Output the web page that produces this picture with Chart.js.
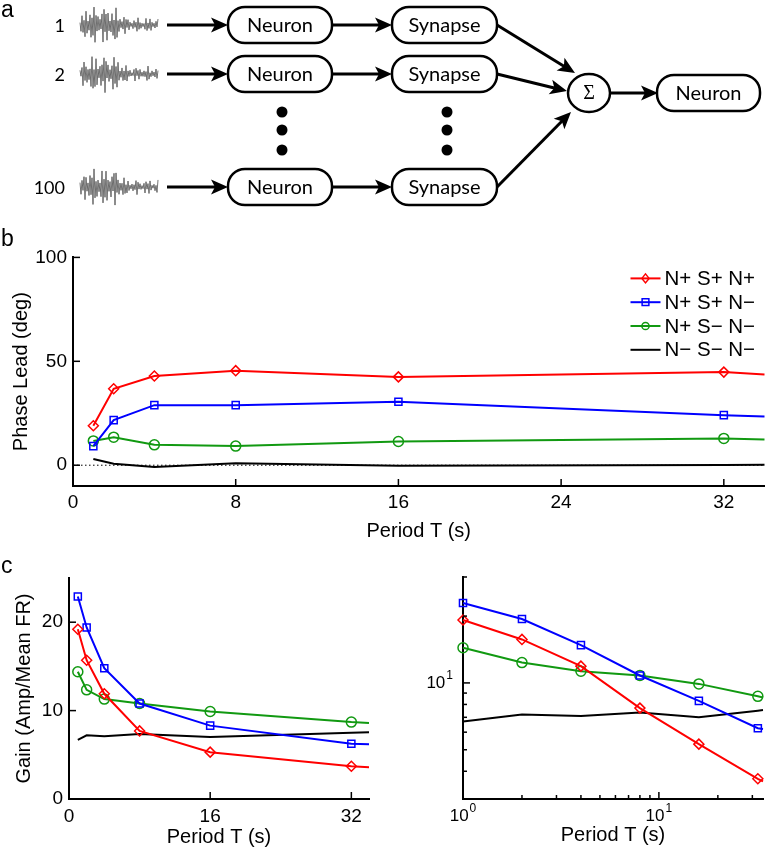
<!DOCTYPE html>
<html>
<head>
<meta charset="utf-8">
<script src="https://cdn.jsdelivr.net/npm/chart.js@4.4.1/dist/chart.umd.min.js"></script>
<style>
  html, body { margin: 0; padding: 0; background: #fff; }
  #page { position: relative; width: 771px; height: 853px; overflow: hidden; font-family: "Liberation Sans", Arial, sans-serif; }
  .wrap { position: absolute; }
  .letter { position: absolute; font-size: 23px; color: #000; }
</style>
</head>
<body>
<div id="page">
  <canvas id="diagram" class="wrap" style="left:0;top:0;width:771px;height:215px"></canvas>
  <div class="letter" style="left:1px;top:-4px">a</div>
  <div class="letter" style="left:1px;top:225px">b</div>
  <div class="letter" style="left:1px;top:552px">c</div>
  <div class="wrap" style="left:0;top:240px;width:771px;height:305px"><canvas id="phase"></canvas></div>
  <div class="wrap" style="left:0;top:560px;width:385px;height:293px"><canvas id="gainLin"></canvas></div>
  <div class="wrap" style="left:390px;top:560px;width:381px;height:293px"><canvas id="gainLog"></canvas></div>
</div>
<script>
  // periods (s); the last value is where the lines leave the frame (no marker there)
  var periods = [1, 2, 4, 8, 16, 32, 34];
  var labels = ["N+ S+ N+", "N+ S+ N\u2212", "N+ S\u2212 N\u2212", "N\u2212 S\u2212 N\u2212"];

  // phase lead (deg)
  var phaseNSN = [19, 36.8, 42.9, 45.5, 42.5, 44.8, 43.6];
  var phaseNSn = [9.2, 21.7, 28.9, 28.9, 30.5, 24.1, 23.5];
  var phaseNsn = [11.7, 13.5, 9.8, 9.2, 11.4, 12.9, 12.4];
  var phasensn = [3, 0.7, -0.8, 1.0, -0.2, 0.1, 0.2];

  // gain (amp / mean FR)
  var gainNSN = [19.2, 15.7, 11.9, 7.7, 5.3, 3.7, 3.6];
  var gainNSn = [22.9, 19.4, 14.8, 10.8, 8.3, 6.25, 6.2];
  var gainNsn = [14.4, 12.35, 11.3, 10.8, 9.9, 8.7, 8.6];
  var gainnsn = [6.7, 7.2, 7.1, 7.35, 7.0, 7.5, 7.55];

  var phaseTicksX = [0, 8, 16, 24, 32];
  var phaseTicksY = [0, 50, 100];
  var gainTicksX = [0, 16, 32];
  var gainTicksY = [0, 10, 20];

  var RED = "#ff0000", BLUE = "#0000ff", GREEN = "#119911", BLACK = "#000000";
  var FONT = "Liberation Sans";
  var TICK = 19, TITLE = 20;

  // ---------- panel a : schematic ----------
  (function () {
    var cv = document.getElementById("diagram");
    var dpr = window.devicePixelRatio || 1;
    cv.width = 771 * dpr; cv.height = 215 * dpr;
    var d = cv.getContext("2d");
    d.scale(dpr, dpr);
    d.strokeStyle = "#000"; d.fillStyle = "#000";

    function arrow(x1, y1, x2, y2) {
      var a = Math.atan2(y2 - y1, x2 - x1), L = 17, W = 7.5;
      var c = Math.cos(a), s = Math.sin(a);
      var bx = x2 - L * c, by = y2 - L * s;
      d.strokeStyle = "#000"; d.lineWidth = 3;
      d.beginPath(); d.moveTo(x1, y1); d.lineTo(bx + 5 * c, by + 5 * s); d.stroke();
      d.beginPath();
      d.moveTo(x2, y2);
      d.lineTo(bx - W * s, by + W * c);
      d.lineTo(x2 - (L - 4) * c, y2 - (L - 4) * s);
      d.lineTo(bx + W * s, by - W * c);
      d.closePath(); d.fill();
    }
    function pill(x1, x2, cy, text) {
      d.strokeStyle = "#000"; d.lineWidth = 2.5;
      d.beginPath(); d.roundRect(x1, cy - 18, x2 - x1, 36, 17); d.stroke();
      d.font = "20px Lato"; d.textAlign = "center"; d.textBaseline = "middle";
      d.fillText(text, (x1 + x2) / 2, cy + 1);
    }
    function noise(x0, cy, ph) {
      d.strokeStyle = "#3a3a3a"; d.lineWidth = 0.7;
      d.beginPath();
      for (var i = 0; i <= 78; i++) {
        var env = i < 6 ? 6 + i * 2 : i < 34 ? 19 : i < 50 ? 19 - (i - 34) * 0.85 : 5 + 3 * Math.abs(Math.sin(i * 0.5 + ph));
        var v = (i % 2 ? 1 : -1) * (0.2 + 0.8 * Math.abs(Math.sin(i * 0.73 + ph) * Math.sin(i * 0.29 + ph * 1.7)));
        var y = cy + env * v;
        if (i === 0) d.moveTo(x0 + i, y); else d.lineTo(x0 + i, y);
      }
      d.stroke();
    }

    var rows = [25, 74, 187], names = ["1", "2", "100"];
    rows.forEach(function (y, k) {
      d.fillStyle = "#000"; d.font = "18px Lato"; d.textAlign = "right"; d.textBaseline = "middle";
      d.fillText(names[k], 65, y + 1);
      noise(80, y, k * 1.9 + 0.4);
      arrow(167, y, 228, y);
      pill(228, 332, y, "Neuron");
      arrow(332, y, 392, y);
      pill(392, 497, y, "Synapse");
    });
    [282, 447].forEach(function (x) {
      [112, 130, 150].forEach(function (y) {
        d.beginPath(); d.arc(x, y, 5.5, 0, Math.PI * 2); d.fill();
      });
    });
    arrow(497, 25, 575, 73);
    arrow(497, 74, 567, 91);
    arrow(497, 187, 571, 112);
    d.lineWidth = 2.5;
    d.beginPath(); d.ellipse(589, 93, 21, 19, 0, 0, Math.PI * 2); d.stroke();
    d.font = "20px 'Liberation Serif'"; d.textAlign = "center"; d.textBaseline = "middle";
    d.fillText("\u03A3", 589, 94);
    arrow(610, 93, 658, 93);
    pill(657, 760, 93, "Neuron");
  })();

  // ---------- charts ----------
  function marker(ctx, style, x, y, r) {
    ctx.beginPath();
    if (style === "rectRot") {
      ctx.moveTo(x, y - r); ctx.lineTo(x + r * 0.8, y); ctx.lineTo(x, y + r); ctx.lineTo(x - r * 0.8, y); ctx.closePath();
    } else if (style === "rect") {
      var h = r * 0.75; ctx.rect(x - h, y - h, 2 * h, 2 * h);
    } else if (style === "circle") {
      ctx.arc(x, y, r * 0.8, 0, Math.PI * 2);
    }
    ctx.stroke();
  }

  function series(label, vals, color, style) {
    return {
      label: label,
      data: periods.map(function (p, i) { return { x: p, y: vals[i] }; }),
      borderColor: color,
      backgroundColor: color,
      borderWidth: 2,
      pointStyle: style || "circle",
      pointRadius: function (c) { return style && periods[c.dataIndex] <= 32 ? 5 : 0; },
      pointBorderWidth: 1.5,
      pointBorderColor: color,
      pointBackgroundColor: "rgba(0,0,0,0)",
      clip: false
    };
  }

  function fixTicks(list) {
    return function (s) { s.ticks = list.map(function (v) { return { value: v }; }); };
  }
  function logTicks(s) {
    s.ticks = s.ticks.filter(function (t) {
      var m = t.value / Math.pow(10, Math.floor(Math.log10(t.value) + 1e-9));
      return Math.abs(m - Math.round(m)) < 1e-6;
    });
  }
  function isDecade(v) { return Math.abs(Math.log10(v) - Math.round(Math.log10(v))) < 1e-9; }

  // inward tick marks (MATLAB style)
  var inTicks = {
    id: "inTicks",
    afterDraw: function (chart) {
      var ctx = chart.ctx, a = chart.chartArea, xs = chart.scales.x, ys = chart.scales.y;
      ctx.save();
      ctx.strokeStyle = "#000"; ctx.lineWidth = 1.5;
      xs.ticks.forEach(function (t) {
        var p = xs.getPixelForValue(t.value), len = xs.type === "logarithmic" && !isDecade(t.value) ? 4 : 7;
        ctx.beginPath(); ctx.moveTo(p, a.bottom); ctx.lineTo(p, a.bottom - len); ctx.stroke();
      });
      ys.ticks.forEach(function (t) {
        var p = ys.getPixelForValue(t.value), len = ys.type === "logarithmic" && !isDecade(t.value) ? 4 : 7;
        ctx.beginPath(); ctx.moveTo(a.left, p); ctx.lineTo(a.left + len, p); ctx.stroke();
      });
      ctx.restore();
    }
  };

  // "10^n" labels for the log axes
  var powLabels = {
    id: "powLabels",
    afterDraw: function (chart) {
      var ctx = chart.ctx, a = chart.chartArea, xs = chart.scales.x, ys = chart.scales.y;
      ctx.save();
      ctx.fillStyle = "#000"; ctx.textBaseline = "middle";
      function draw(v, cx, cy, alignRight) {
        var e = String(Math.round(Math.log10(v)));
        ctx.font = "17px " + FONT; var w1 = ctx.measureText("10").width;
        ctx.font = "12px " + FONT; var w2 = ctx.measureText(e).width;
        var x0 = alignRight ? cx - w1 - w2 - 1 : cx - (w1 + w2 + 1) / 2;
        ctx.textAlign = "left";
        ctx.font = "17px " + FONT; ctx.fillText("10", x0, cy);
        ctx.font = "12px " + FONT; ctx.fillText(e, x0 + w1 + 1, cy - 7);
      }
      xs.ticks.forEach(function (t) { if (isDecade(t.value)) draw(t.value, xs.getPixelForValue(t.value), a.bottom + 17, false); });
      ys.ticks.forEach(function (t) { if (isDecade(t.value)) draw(t.value, a.left - 10, ys.getPixelForValue(t.value), true); });
      ctx.restore();
    }
  };

  // legend drawn inside the plot area
  var boxLegend = {
    id: "boxLegend",
    afterDraw: function (chart) {
      var ctx = chart.ctx, a = chart.chartArea;
      var items = chart.data.datasets.filter(function (ds) { return !ds.hideInLegend; });
      ctx.save();
      items.forEach(function (ds, i) {
        var y = a.top + 21 + i * 23.8, x1 = a.right - 134, x2 = a.right - 104;
        ctx.strokeStyle = ds.borderColor; ctx.lineWidth = 2;
        ctx.beginPath(); ctx.moveTo(x1, y); ctx.lineTo(x2, y); ctx.stroke();
        if (ds.pointStyle && ds.borderColor !== BLACK) { ctx.lineWidth = 1.5; marker(ctx, ds.pointStyle, (x1 + x2) / 2, y, 4.5); }
        ctx.fillStyle = "#000"; ctx.font = "20.5px " + FONT; ctx.textAlign = "left"; ctx.textBaseline = "middle";
        ctx.fillText(ds.label, x2 + 4, y + 1);
      });
      ctx.restore();
    }
  };

  function axis(extra) {
    var base = {
      grid: { display: false, drawTicks: false },
      border: { display: true, color: "#000", width: 2 },
      ticks: { color: "#000", font: { family: FONT, size: TICK }, autoSkip: false, maxRotation: 0 },
      title: { display: false, color: "#000", font: { family: FONT, size: TITLE } }
    };
    for (var k in extra) {
      if (typeof extra[k] === "object" && base[k] && !Array.isArray(extra[k])) {
        base[k] = Object.assign({}, base[k], extra[k]);
      } else base[k] = extra[k];
    }
    return base;
  }

  Chart.defaults.font.family = FONT;

  // ---------- panel b : phase ----------
  var zeroLine = {
    label: "zero", hideInLegend: true,
    data: [{ x: 0, y: 0 }, { x: 34, y: 0 }],
    borderColor: "#000", borderWidth: 1, borderDash: [1.5, 2.5], pointRadius: 0
  };
  new Chart(document.getElementById("phase"), {
    type: "line",
    data: {
      datasets: [
        series(labels[0], phaseNSN, RED, "rectRot"),
        series(labels[1], phaseNSn, BLUE, "rect"),
        series(labels[2], phaseNsn, GREEN, "circle"),
        series(labels[3], phasensn, BLACK, null),
        zeroLine
      ]
    },
    options: {
      responsive: true, maintainAspectRatio: false, animation: false,
      layout: { padding: { top: 16, right: 0, bottom: 0, left: 0 } },
      plugins: { legend: { display: false }, tooltip: { enabled: false } },
      scales: {
        x: axis({
          type: "linear", min: 0, max: 34,
          afterBuildTicks: fixTicks(phaseTicksX),
          afterFit: function (s) { s.height = 59; },
          ticks: { padding: 5 },
          title: { display: true, text: "Period T (s)", padding: { top: 0, bottom: 2 } }
        }),
        y: axis({
          type: "linear", min: -10, max: 100,
          afterBuildTicks: fixTicks(phaseTicksY),
          afterFit: function (s) { s.width = 73; },
          ticks: { padding: 6 },
          title: { display: true, text: "Phase Lead (deg)", padding: { top: 9, bottom: 0 } }
        })
      }
    },
    plugins: [inTicks, boxLegend]
  });

  // ---------- panel c : gain, linear axes ----------
  function gainSets() {
    return [
      series(labels[0], gainNSN, RED, "rectRot"),
      series(labels[1], gainNSn, BLUE, "rect"),
      series(labels[2], gainNsn, GREEN, "circle"),
      series(labels[3], gainnsn, BLACK, null)
    ];
  }
  new Chart(document.getElementById("gainLin"), {
    type: "line",
    data: { datasets: gainSets() },
    options: {
      responsive: true, maintainAspectRatio: false, animation: false,
      layout: { padding: { top: 18, right: 16, bottom: 0, left: 0 } },
      plugins: { legend: { display: false }, tooltip: { enabled: false } },
      scales: {
        x: axis({
          type: "linear", min: 0, max: 34,
          afterBuildTicks: fixTicks(gainTicksX),
          afterFit: function (s) { s.height = 54; },
          ticks: { padding: 6 },
          title: { display: true, text: "Period T (s)", padding: { top: 0, bottom: 4 } }
        }),
        y: axis({
          type: "linear", min: 0, max: 25,
          afterBuildTicks: fixTicks(gainTicksY),
          afterFit: function (s) { s.width = 69; },
          ticks: { padding: 6 },
          title: { display: true, text: "Gain (Amp/Mean FR)", padding: { top: 12, bottom: 0 } }
        })
      }
    },
    plugins: [inTicks]
  });

  // ---------- panel c : gain, log-log axes ----------
  new Chart(document.getElementById("gainLog"), {
    type: "line",
    data: { datasets: gainSets() },
    options: {
      responsive: true, maintainAspectRatio: false, animation: false,
      layout: { padding: { top: 17, right: 8, bottom: 0, left: 0 } },
      plugins: { legend: { display: false }, tooltip: { enabled: false } },
      scales: {
        x: axis({
          type: "logarithmic", min: 1, max: 34,
          afterBuildTicks: logTicks,
          afterFit: function (s) { s.height = 54; },
          ticks: { display: false },
          title: { display: true, text: "Period T (s)", padding: { top: 0, bottom: 6 } }
        }),
        y: axis({
          type: "logarithmic", min: 3, max: 30,
          afterBuildTicks: logTicks,
          afterFit: function (s) { s.width = 73; },
          ticks: { display: false }
        })
      }
    },
    plugins: [inTicks, powLabels]
  });
</script>
</body>
</html>
